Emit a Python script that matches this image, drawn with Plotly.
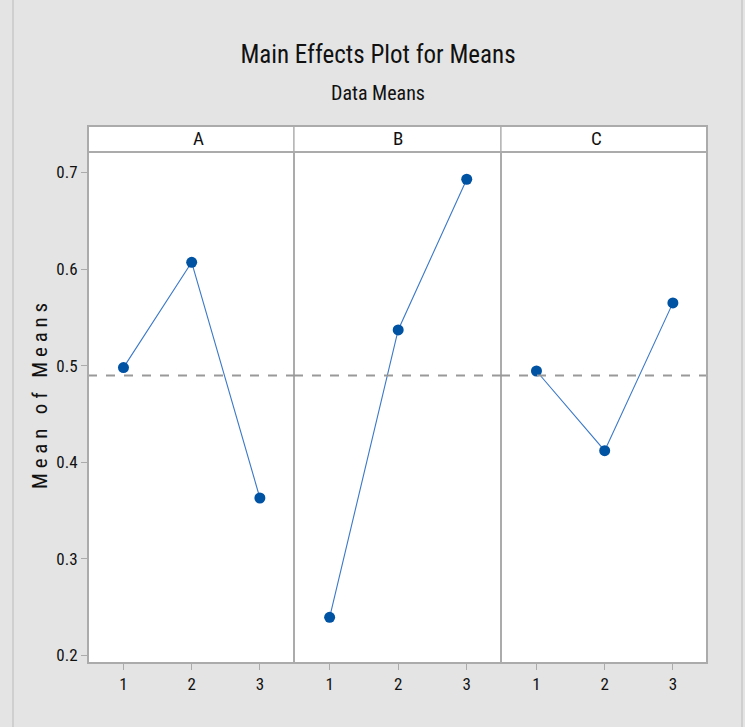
import numpy as np
import plotly.graph_objects as go

factors = ["A", "B", "C"]
levels = [1, 2, 3]
means_A = [0.498, 0.607, 0.363]
means_B = [0.2395, 0.537, 0.693]
means_C = [0.4945, 0.412, 0.565]
series = [means_A, means_B, means_C]
ytick_vals = [0.2, 0.3, 0.4, 0.5, 0.6, 0.7]
ytick_text = ["0.2", "0.3", "0.4", "0.5", "0.6", "0.7"]

grand_mean = float(np.mean(means_A + means_B + means_C))

FONT = "Liberation Sans Narrow, Arial Narrow, Roboto Condensed, sans-serif"
W, H = 745, 727
L, R, T, B = 88, 38, 126, 64
plot_w = W - L - R
plot_h = H - T - B
strip_px = 26
ydom_top = 1 - strip_px / plot_h

fig = go.Figure()
grid_col = "#ababab"
bounds = [0.0, 206 / plot_w, 413 / plot_w, 1.0]

for i, (f, vals) in enumerate(zip(factors, series)):
    xa = "x" if i == 0 else f"x{i+1}"
    ya = "y" if i == 0 else f"y{i+1}"
    fig.add_trace(go.Scatter(
        x=levels, y=vals, mode="lines+markers",
        line=dict(color="#3a78c8", width=1.1),
        marker=dict(color="#0052a3", size=11, symbol="circle"),
        xaxis=xa, yaxis=ya, showlegend=False, hoverinfo="x+y"))
    xkey = "xaxis" if i == 0 else f"xaxis{i+1}"
    ykey = "yaxis" if i == 0 else f"yaxis{i+1}"
    fig.layout[xkey] = dict(
        domain=[bounds[i], bounds[i + 1]], range=[0.48, 3.5],
        tickvals=levels, ticktext=[str(v) for v in levels],
        ticks="outside", ticklen=6, tickcolor=grid_col,
        showline=True, linecolor=grid_col, linewidth=1, mirror=True,
        showgrid=False, zeroline=False, anchor=ya,
        tickfont=dict(family=FONT, size=17, color="#111"))
    fig.layout[ykey] = dict(
        domain=[0, ydom_top], range=[0.1922, 0.7212],
        tickvals=ytick_vals, ticktext=ytick_text,
        ticks="outside" if i == 0 else "", ticklen=6, tickcolor=grid_col,
        showticklabels=(i == 0),
        showline=True, linecolor=grid_col, linewidth=1, mirror=True,
        showgrid=False, zeroline=False, anchor=xa,
        tickfont=dict(family=FONT, size=17, color="#111"))
    fig.add_shape(type="line", xref=f"{xa} domain", yref=ya,
                  x0=0, x1=1, y0=grand_mean, y1=grand_mean,
                  line=dict(color="#999999", width=2, dash="dash"))
    fig.add_shape(type="rect", xref="paper", yref="paper",
                  x0=bounds[i], x1=bounds[i + 1], y0=ydom_top, y1=1,
                  fillcolor="white", line=dict(color=grid_col, width=1.2))
    fig.add_annotation(text=f, xref="paper", yref="paper",
                       x=(bounds[i] + bounds[i + 1]) / 2, y=(ydom_top + 1) / 2,
                       showarrow=False, yanchor="middle",
                       font=dict(family=FONT, size=19, color="#111"))

fig.add_shape(type="rect", xref="paper", yref="paper", x0=0, x1=1, y0=0, y1=1,
              line=dict(color=grid_col, width=2))
fig.add_shape(type="line", xref="paper", yref="paper", x0=0, x1=1,
              y0=ydom_top, y1=ydom_top, line=dict(color=grid_col, width=2))

for xp in [13, 742]:
    fig.add_shape(type="line", xref="paper", yref="paper",
                  x0=(xp - L) / plot_w, x1=(xp - L) / plot_w,
                  y0=-B / plot_h, y1=1 + T / plot_h,
                  line=dict(color="#c8c8c8", width=1.5))

fig.add_annotation(text="Data Means", xref="paper", yref="paper",
                   x=(378 - L) / plot_w, y=1 + (T - 93) / plot_h,
                   showarrow=False, yanchor="middle",
                   font=dict(family=FONT, size=20, color="#111"))
fig.add_annotation(text="M e a n\u00a0\u00a0 o f\u00a0\u00a0 M e a n s",
                   xref="paper", yref="paper", textangle=-90,
                   x=(40 - L) / plot_w, y=(H - B - 396) / plot_h,
                   showarrow=False, xanchor="center", yanchor="middle",
                   font=dict(family=FONT, size=21, color="#111"))

fig.update_layout(
    width=W, height=H,
    margin=dict(l=L, r=R, t=T, b=B),
    paper_bgcolor="#e4e4e4", plot_bgcolor="white",
    title=dict(text="Main Effects Plot for Means", x=378 / W, xanchor="center",
               y=1 - 54 / H, yanchor="middle",
               font=dict(family=FONT, size=25, color="#111")),
)

fig.write_html("out.html", config={"displayModeBar": False},
               post_script="document.body.style.margin='0';"
                           "document.body.style.background='#e4e4e4';")
